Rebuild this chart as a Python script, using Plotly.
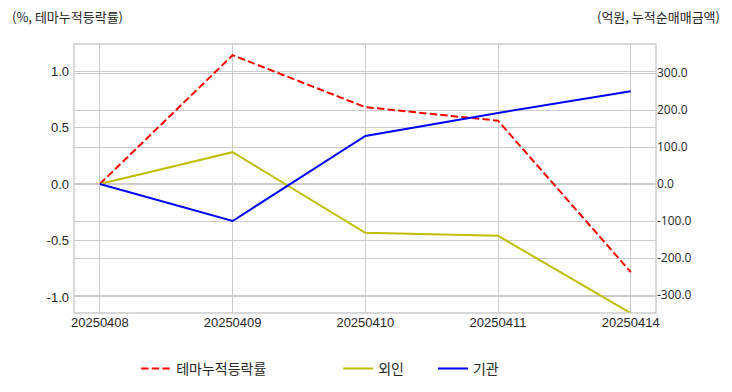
import plotly.graph_objects as go

dates = ["20250408", "20250409", "20250410", "20250411", "20250414"]
theme_return = [0.0, 1.14, 0.68, 0.56, -0.78]
foreign = [0.0, 86.0, -132.0, -140.0, -349.0]
institution = [0.0, -100.0, 130.0, 192.0, 251.0]

left_ticks = [-1.0, -0.5, 0.0, 0.5, 1.0]
right_ticks = [-300, -200, -100, 0, 100, 200, 300]

num_font = "Liberation Sans, Arial, sans-serif"
kr_font = "Noto Sans CJK KR, sans-serif"
txt = "#262626"

fig = go.Figure()
fig.add_trace(go.Scatter(x=dates, y=theme_return, mode="lines", name="테마누적등락률",
                         line=dict(color="#ff0000", width=2, dash="7.4px,3.2px"),
                         yaxis="y", legend="legend", showlegend=True))
fig.add_trace(go.Scatter(x=dates, y=foreign, mode="lines", name="외인",
                         line=dict(color="#bfbf00", width=2),
                         yaxis="y2", legend="legend2", showlegend=True))
fig.add_trace(go.Scatter(x=dates, y=institution, mode="lines", name="기관",
                         line=dict(color="#0000ff", width=2),
                         yaxis="y2", legend="legend3", showlegend=True))

grid = "#cccccc"
leg_common = dict(orientation="h", xref="container", yref="container", y=0.059,
                  xanchor="left", yanchor="middle",
                  font=dict(family=kr_font, size=14, color=txt), bgcolor="rgba(0,0,0,0)")
fig.update_layout(
    width=732, height=392,
    margin=dict(l=74, r=76, t=44, b=79, autoexpand=False),
    showlegend=True,
    plot_bgcolor="white", paper_bgcolor="white",
    xaxis=dict(type="category", range=[-0.195, 4.19], showgrid=True, gridcolor=grid, gridwidth=1,
               zeroline=False, ticks="", automargin=False,
               tickfont=dict(family=num_font, size=13, color=txt)),
    yaxis=dict(range=[-1.142, 1.239], tickvals=left_ticks, ticktext=[f"{v:.1f}" for v in left_ticks],
               showgrid=True, gridcolor=grid, gridwidth=1, zeroline=False, ticks="", automargin=False,
               ticklabelstandoff=4,
               tickfont=dict(family=num_font, size=13, color=txt)),
    yaxis2=dict(range=[-348.6, 378.4], overlaying="y", side="right", tickvals=right_ticks,
                ticktext=[f"{v:.1f}" for v in right_ticks],
                showgrid=True, gridcolor=grid, gridwidth=1, zeroline=False, ticks="", automargin=False,
                tickfont=dict(family="Open Sans, sans-serif", size=12, color=txt)),
    font=dict(family=kr_font, size=12, color=txt),
    legend=dict(x=0.186, **leg_common),
    legend2=dict(x=0.462, **leg_common),
    legend3=dict(x=0.5915, **leg_common),
    shapes=[dict(type="rect", xref="paper", yref="paper", x0=0, x1=1, y0=0, y1=1,
                 line=dict(color=grid, width=1.5), layer="above")],
    annotations=[
        dict(text="(%, 테마누적등락률)", xref="paper", yref="paper", x=0, y=1, showarrow=False,
             xanchor="left", yanchor="middle", xshift=-64, yshift=28,
             font=dict(family=kr_font, size=13, color=txt)),
        dict(text="(억원, 누적순매매금액)", xref="paper", yref="paper", x=1, y=1, showarrow=False,
             xanchor="right", yanchor="middle", xshift=66, yshift=28,
             font=dict(family=kr_font, size=13, color=txt)),
    ],
)

fig.write_html("out.html", config={"displayModeBar": False},
               post_script="document.body.style.margin='0px';")
